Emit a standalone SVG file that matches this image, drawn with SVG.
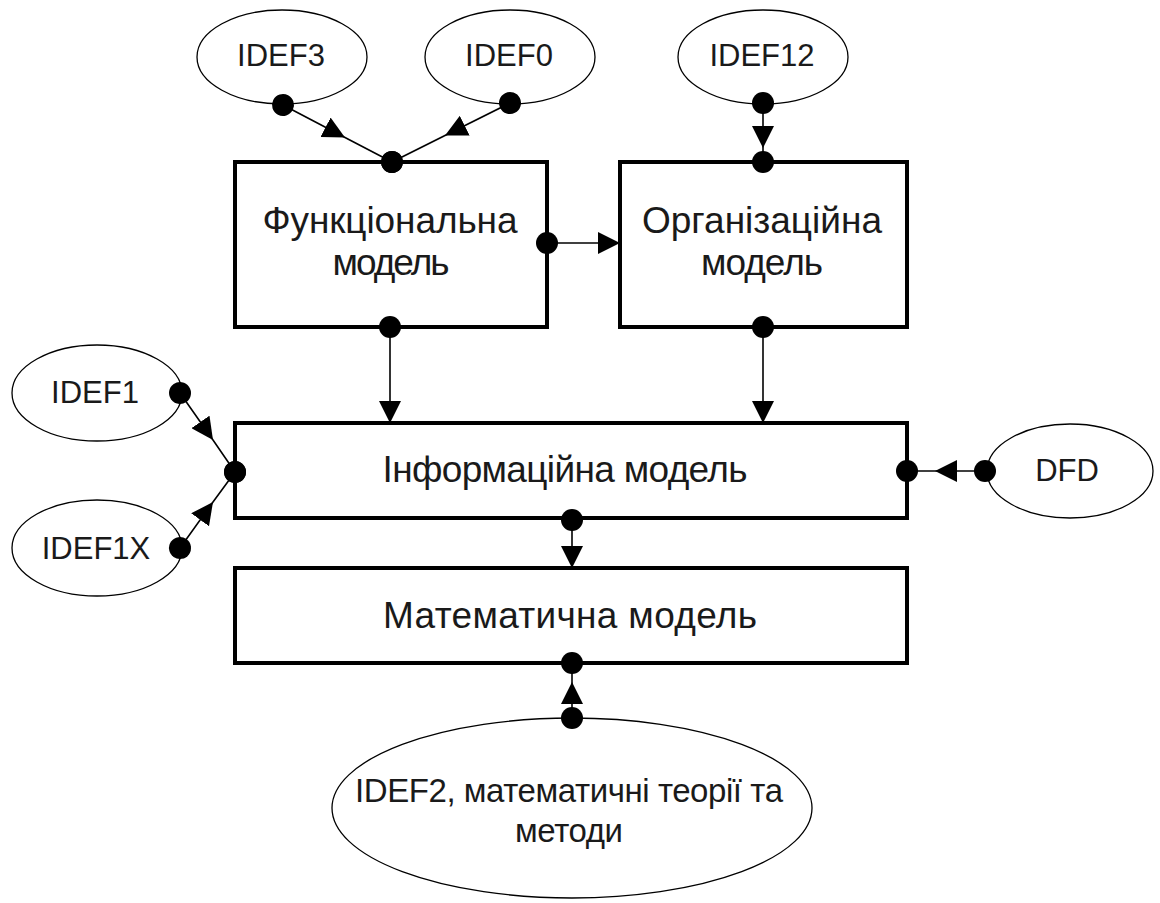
<svg xmlns="http://www.w3.org/2000/svg" width="1160" height="903" viewBox="0 0 1160 903">
  <style>
    .box { fill: #fff; stroke: #000; stroke-width: 4; }
    .oval { fill: #fff; stroke: #000; stroke-width: 1.3; }
    .wire { fill: none; stroke: #000; stroke-width: 1.6; }
    .lbl { font-family: "Liberation Sans", Arial, sans-serif; fill: #1a1a1a; text-anchor: middle; }
    .small { font-size: 31px; }
    .mid { font-size: 33px; }
    .big { font-size: 37px; }
  </style>
  <defs>
    <marker id="dot" viewBox="-12 -12 24 24" markerUnits="userSpaceOnUse" markerWidth="24" markerHeight="24" refX="0" refY="0" orient="auto">
      <circle cx="0" cy="0" r="11" fill="#000"/>
    </marker>
    <marker id="tip" viewBox="-22 -11 22 22" markerUnits="userSpaceOnUse" markerWidth="22" markerHeight="22" refX="0" refY="0" orient="auto">
      <path d="M0,0 L-22,-11 L-22,11 Z" fill="#000"/>
    </marker>
  </defs>

  <!-- boxes -->
  <g id="func-model">
    <rect class="box" x="235" y="162" width="312" height="165"/>
    <text class="lbl big" x="390" y="233" textLength="255">Функціональна</text>
    <text class="lbl big" x="391" y="275" textLength="117">модель</text>
  </g>
  <g id="org-model">
    <rect class="box" x="620" y="162" width="287" height="165"/>
    <text class="lbl big" x="762" y="233" textLength="240">Організаційна</text>
    <text class="lbl big" x="762" y="275" textLength="122">модель</text>
  </g>
  <g id="info-model">
    <rect class="box" x="235" y="423" width="672" height="95"/>
    <text class="lbl big" x="565" y="482" textLength="365">Інформаційна модель</text>
  </g>
  <g id="math-model">
    <rect class="box" x="235" y="568" width="672" height="95"/>
    <text class="lbl big" x="570" y="628" textLength="374">Математична модель</text>
  </g>

  <!-- methodologies -->
  <g id="idef3">
    <ellipse class="oval" cx="282" cy="57" rx="85" ry="47"/>
    <text class="lbl small" x="281" y="66">IDEF3</text>
  </g>
  <g id="idef0">
    <ellipse class="oval" cx="510" cy="57" rx="85" ry="47"/>
    <text class="lbl small" x="509" y="66">IDEF0</text>
  </g>
  <g id="idef12">
    <ellipse class="oval" cx="763" cy="57" rx="85" ry="47"/>
    <text class="lbl small" x="762" y="66">IDEF12</text>
  </g>
  <g id="idef1">
    <ellipse class="oval" cx="97" cy="393" rx="85" ry="48"/>
    <text class="lbl small" x="95" y="403">IDEF1</text>
  </g>
  <g id="idef1x">
    <ellipse class="oval" cx="97" cy="548" rx="85" ry="48"/>
    <text class="lbl small" x="96" y="559">IDEF1X</text>
  </g>
  <g id="dfd">
    <ellipse class="oval" cx="1070" cy="471" rx="83" ry="47"/>
    <text class="lbl small" x="1067" y="481">DFD</text>
  </g>
  <g id="idef2">
    <ellipse class="oval" cx="572" cy="808" rx="240" ry="90"/>
    <text class="lbl mid" x="569" y="802" textLength="428">IDEF2, математичні теорії та</text>
    <text class="lbl mid" x="569" y="842" textLength="108">методи</text>
  </g>

  <!-- connectors: dot at the source, arrowhead along the line, dot at the target -->
  <g id="connectors">
    <path class="wire" d="M283,105 L345,137.5 L392,162" marker-start="url(#dot)" marker-mid="url(#tip)" marker-end="url(#dot)"/>
    <path class="wire" d="M510,103 L445,135.5 L392,162" marker-start="url(#dot)" marker-mid="url(#tip)" marker-end="url(#dot)"/>
    <path class="wire" d="M763,103 L763,148 L763,162" marker-start="url(#dot)" marker-mid="url(#tip)" marker-end="url(#dot)"/>
    <path class="wire" d="M547,243 L620,243" marker-start="url(#dot)" marker-end="url(#tip)"/>
    <path class="wire" d="M390,327 L390,423" marker-start="url(#dot)" marker-end="url(#tip)"/>
    <path class="wire" d="M763,327 L763,423" marker-start="url(#dot)" marker-end="url(#tip)"/>
    <path class="wire" d="M180,393 L213,440 L235,472" marker-start="url(#dot)" marker-mid="url(#tip)" marker-end="url(#dot)"/>
    <path class="wire" d="M180,548 L213,502 L235,472" marker-start="url(#dot)" marker-mid="url(#tip)" marker-end="url(#dot)"/>
    <path class="wire" d="M985,471 L935,471 L907,471" marker-start="url(#dot)" marker-mid="url(#tip)" marker-end="url(#dot)"/>
    <path class="wire" d="M572,520 L572,568" marker-start="url(#dot)" marker-end="url(#tip)"/>
    <path class="wire" d="M572,718 L572,682 L572,663" marker-start="url(#dot)" marker-mid="url(#tip)" marker-end="url(#dot)"/>
  </g>
</svg>
